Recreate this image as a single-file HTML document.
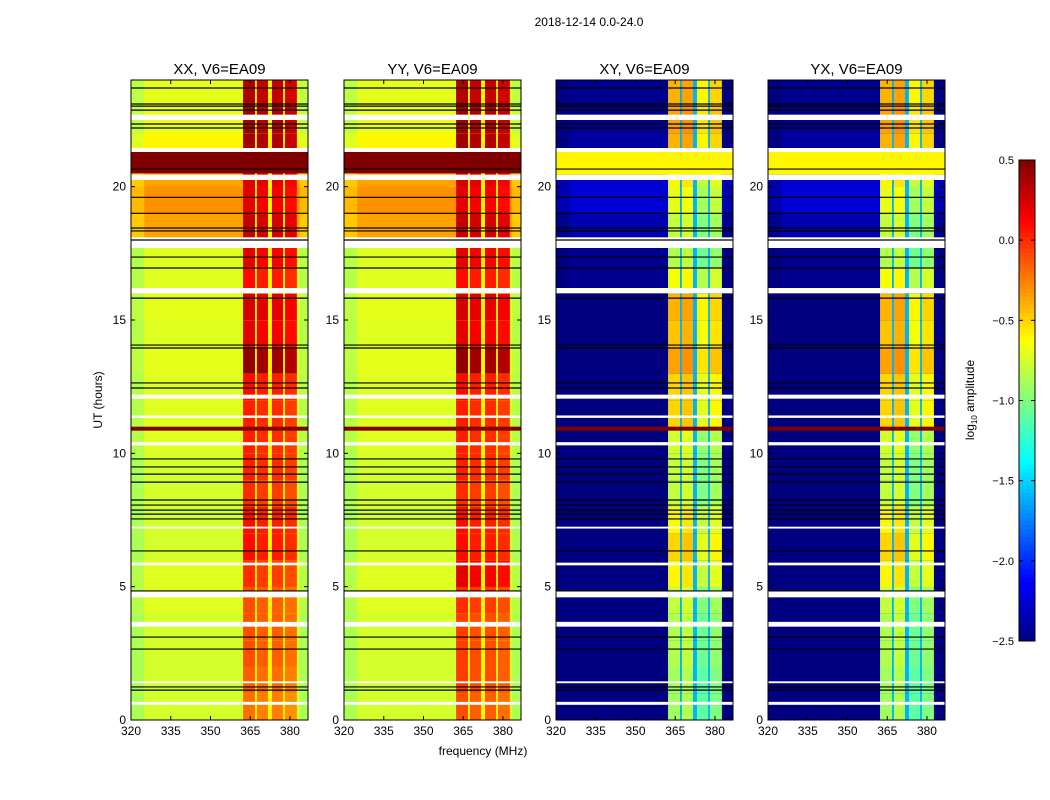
<!DOCTYPE html>
<html><head><meta charset="utf-8"><style>
html,body{margin:0;padding:0;background:#fff;width:1050px;height:800px;overflow:hidden}
svg text{font-family:"Liberation Sans",sans-serif;fill:#000}
</style></head><body>
<svg id="fig" width="1050" height="800" viewBox="0 0 1050 800" xmlns="http://www.w3.org/2000/svg">
<rect width="1050" height="800" fill="#fff"/>
<text x="589" y="26" font-size="12" text-anchor="middle">2018-12-14 0.0-24.0</text>
<text x="483" y="755" font-size="12" text-anchor="middle">frequency (MHz)</text>
<text transform="translate(102,400) rotate(-90)" font-size="12" text-anchor="middle">UT (hours)</text>
<text transform="translate(974,400) rotate(-90)" font-size="12" text-anchor="middle">log<tspan font-size="8" dy="3">10</tspan><tspan dy="-3"> amplitude</tspan></text>
<g id="panels"></g>
<g id="cbar"></g>
</svg>
<script>
// ---- data ----
const panelNames = ["XX, V6=EA09","YY, V6=EA09","XY, V6=EA09","YX, V6=EA09"];
const xTicks = [320,335,350,365,380];
const yTicks = [0,5,10,15,20];
const cbTicks = [0.5,0.0,-0.5,-1.0,-1.5,-2.0,-2.5];
// frequency bands (MHz)
const bandStarts = [362.3,367.5,373.2,378.1];
const bandEnds   = [366.8,371.7,377.4,382.6];
// hourly background amplitude (log10) per panel
const bgXX = [-0.75,-0.75,-0.75,-0.75,-0.72,-0.72,-0.75,-0.75,-0.75,-0.75,-0.72,-0.72,-0.72,-0.7,-0.72,-0.7,-0.72,-0.72,-0.35,-0.3,-0.35,-0.6,-0.68,-0.7];
const bgYY = [-0.75,-0.75,-0.75,-0.75,-0.72,-0.72,-0.75,-0.75,-0.75,-0.75,-0.72,-0.72,-0.72,-0.7,-0.72,-0.7,-0.72,-0.72,-0.35,-0.3,-0.35,-0.6,-0.68,-0.7];
const bgXY = [-2.5,-2.5,-2.5,-2.5,-2.5,-2.5,-2.5,-2.5,-2.5,-2.5,-2.5,-2.5,-2.5,-2.5,-2.5,-2.5,-2.45,-2.45,-2.35,-2.25,-2.25,-2.4,-2.45,-2.45];
const bgYX = [-2.5,-2.5,-2.5,-2.5,-2.5,-2.5,-2.5,-2.5,-2.5,-2.5,-2.5,-2.5,-2.5,-2.5,-2.5,-2.5,-2.45,-2.45,-2.35,-2.25,-2.25,-2.4,-2.45,-2.45];
// hourly band amplitude per panel
const bandXX = [-0.3,-0.25,-0.2,-0.2,-0.2,-0.1,0,0,-0.1,-0.05,-0.05,-0.05,0,0.35,0.1,0.15,0,0.1,0.2,0.1,0.15,0.3,0.3,0.25];
const bandYY = [-0.2,-0.15,-0.15,-0.15,-0.1,0.1,0,0,-0.1,-0.05,-0.05,-0.05,0,0.35,0.1,0.15,0,0.1,0.2,0.1,0.15,0.3,0.3,0.25];
const bandXY = [-0.9,-0.9,-0.85,-0.85,-0.8,-0.6,-0.5,-0.6,-0.8,-0.8,-0.75,-0.5,-0.5,-0.35,-0.45,-0.4,-0.65,-0.85,-0.8,-0.7,-0.6,-0.4,-0.35,-0.4];
const bandYX = [-0.9,-0.9,-0.85,-0.85,-0.8,-0.6,-0.5,-0.6,-0.8,-0.8,-0.75,-0.5,-0.5,-0.35,-0.45,-0.4,-0.65,-0.85,-0.8,-0.7,-0.6,-0.4,-0.35,-0.4];
// per-band offsets
const bandOffXX = [0.1,0.05,0.05,0];
const bandOffXY = [0,0.05,-0.2,-0.1];
// gap level between bands
const gapLevel = [-0.6,-0.6,-1.6,-1.6];
// special intervals [start,end] and value per panel
const specStart = [20.5,10.85,20.45];
const specEnd   = [21.3,11.0,21.4];
const specXX = [0.5,0.5,null];
const specXY = [null,0.5,-0.6];
// flagged (white) intervals
const flagStart = [0.57,1.38,3.5,4.6,5.8,7.18,10.3,11.33,12.05,16.0,17.7,20.25,21.3,22.5];
const flagEnd   = [0.68,1.45,3.68,4.82,5.9,7.25,10.42,11.42,12.2,16.2,18.1,20.45,21.45,22.7];
// black lines (hours)
const blackLines = [23.7,23.1,23.02,22.87,22.35,22.2,20.66,19.6,19.0,18.45,18.34,18.0,17.36,16.95,15.82,14.06,13.95,12.64,12.45,9.79,9.49,9.22,8.92,8.25,8.06,7.87,7.72,7.54,6.34,4.84,3.11,2.66,1.24,1.12];

// ---- layout ----
const panelX = [131,344,556,768], PW = 177, PT = 80, PB = 720;
const F0 = 320, F1 = 386.8, H0 = 0, H1 = 24;
const bgs=[bgXX,bgYY,bgXY,bgYX], bands=[bandXX,bandYY,bandXY,bandYX];
const bOffs=[bandOffXX,bandOffXX,bandOffXY,bandOffXY], specs=[specXX,specXX,specXY,specXY];
function jet(v){let t=(v+2.5)/3;t=Math.max(0,Math.min(1,t));
 const c=x=>Math.round(255*Math.max(0,Math.min(1,1.5-Math.abs(x))));
 return `rgb(${c(4*t-3)},${c(4*t-2)},${c(4*t-1)})`;}
const NS="http://www.w3.org/2000/svg";
function mk(tag,attrs,parent){const e=document.createElementNS(NS,tag);for(const k in attrs)e.setAttribute(k,attrs[k]);parent.appendChild(e);return e;}
const root=document.getElementById('panels');
panelNames.forEach((name,p)=>{
 const x0=panelX[p];
 const xs=f=>x0+(f-F0)/(F1-F0)*PW;
 const ys=h=>PB-(h-H0)/(H1-H0)*(PB-PT);
 const g=mk('g',{},root);
 
 
 const cells=mk('g',{},g);
 
 
 for(let h=0;h<24;h++){
  const y=ys(h+1),hh=ys(h)-ys(h+1);
  let r=mk('rect',{x:xs(F0),y:y,width:xs(F1)-xs(F0),height:hh+0.3,fill:jet(bgs[p][h])},cells);
  
  r=mk('rect',{x:xs(F0),y:y,width:xs(325)-xs(F0),height:hh+0.3,fill:jet(bgs[p][h]-0.12)},cells);
  
  r=mk('rect',{x:xs(383.5),y:y,width:xs(F1)-xs(383.5),height:hh+0.3,fill:jet(bgs[p][h]-0.12)},cells);
  
  r=mk('rect',{x:xs(bandStarts[0]),y:y,width:xs(bandEnds[3])-xs(bandStarts[0]),height:hh+0.3,fill:jet(gapLevel[p])},cells);
  
  for(let b=0;b<bandStarts.length;b++){
   r=mk('rect',{x:xs(bandStarts[b]),y:y,width:xs(bandEnds[b])-xs(bandStarts[b]),height:hh+0.3,fill:jet(bands[p][h]+bOffs[p][b])},cells);
   
  }
 }
 specStart.forEach((s,i)=>{const v=specs[p][i];if(v===null)return;
  const r=mk('rect',{x:xs(F0),y:ys(specEnd[i]),width:PW,height:ys(s)-ys(specEnd[i]),fill:jet(v)},cells);
  });
 flagStart.forEach((s,i)=>{
  const r=mk('rect',{x:xs(F0),y:ys(flagEnd[i]),width:PW,height:ys(s)-ys(flagEnd[i]),fill:'#fff'},cells);
  });
 blackLines.forEach(h=>{
  const l=mk('line',{x1:x0,x2:x0+PW,y1:ys(h),y2:ys(h),stroke:'#000','stroke-width':1.2},cells);
  });
 const fr=mk('rect',{x:x0,y:PT,width:PW,height:PB-PT,fill:'none',stroke:'#000','stroke-width':1},g);
 
 const t=mk('text',{x:x0+PW/2,y:PT-6,'font-size':15,'text-anchor':'middle'},g);t.textContent=name;
 
 xTicks.forEach(f=>{const X=xs(f);
  mk('line',{x1:X,x2:X,y1:PB,y2:PB-4,stroke:'#000'},g);mk('line',{x1:X,x2:X,y1:PT,y2:PT+4,stroke:'#000'},g);
  const tx=mk('text',{x:X,y:PB+15,'font-size':12,'text-anchor':'middle'},g);tx.textContent=f;
  });
 yTicks.forEach(h=>{const Y=ys(h);
  mk('line',{x1:x0,x2:x0+4,y1:Y,y2:Y,stroke:'#000'},g);mk('line',{x1:x0+PW,x2:x0+PW-4,y1:Y,y2:Y,stroke:'#000'},g);
  const tx=mk('text',{x:x0-5,y:Y+4,'font-size':12,'text-anchor':'end'},g);tx.textContent=h;
  });
});
// colorbar
const cb=document.getElementById('cbar');


const CX=1019,CW=16,CT=160,CB=641;
const cy=v=>CB-(v+2.5)/3*(CB-CT);
for(let i=0;i<120;i++){const v=-2.5+3*i/120;
 mk('rect',{x:CX,y:cy(v+3/120),width:CW,height:(CB-CT)/120+0.5,fill:jet(v+1.5/120)},cb);}
mk('rect',{x:CX,y:CT,width:CW,height:CB-CT,fill:'none',stroke:'#000'},cb);
cbTicks.forEach(v=>{const Y=cy(v);
 mk('line',{x1:CX,x2:CX+4,y1:Y,y2:Y,stroke:'#000'},cb);mk('line',{x1:CX+CW,x2:CX+CW-4,y1:Y,y2:Y,stroke:'#000'},cb);
 const tx=mk('text',{x:CX-5,y:Y+4,'font-size':11,'text-anchor':'end'},cb);
 tx.textContent=(v<0?'\u2212':'')+Math.abs(v).toFixed(1);
 });
</script>
</body></html>
